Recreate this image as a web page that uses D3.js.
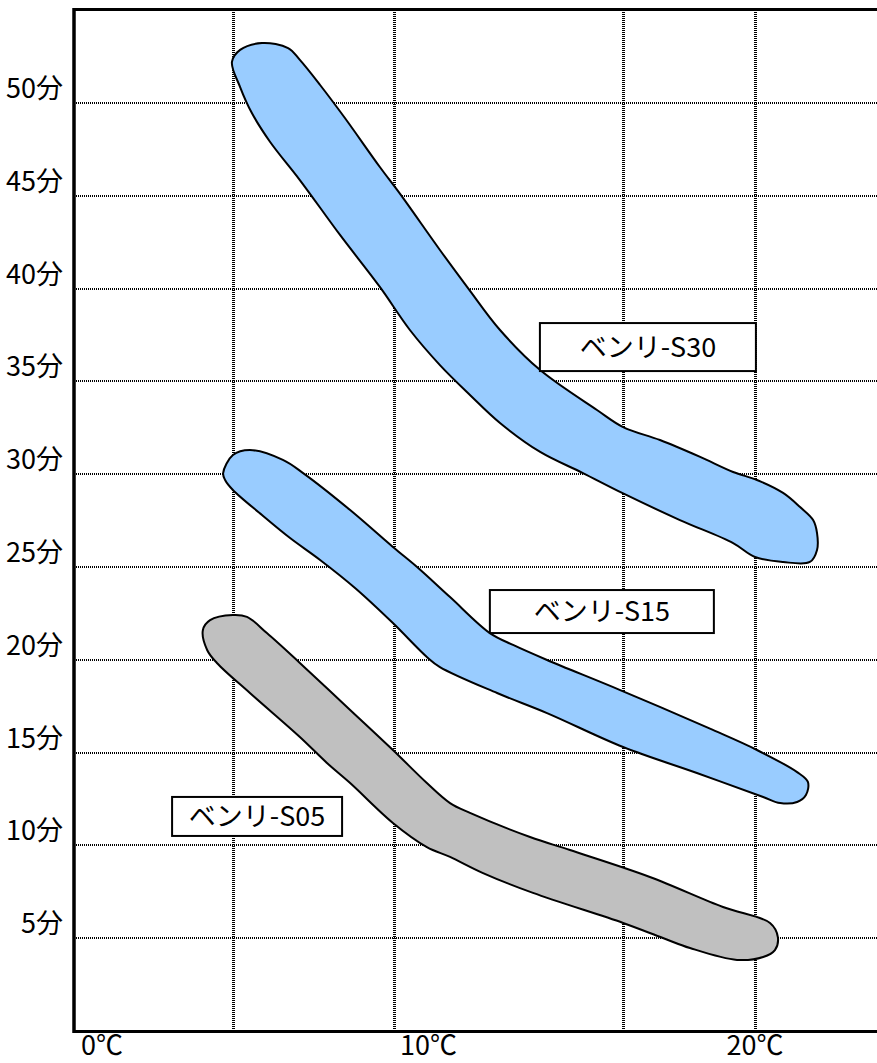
<!DOCTYPE html>
<html>
<head>
<meta charset="utf-8">
<script src="https://cdn.jsdelivr.net/npm/d3@7"></script>
<style>
    body { margin: 0; background: #fff; }
    .tick { font-family: "Noto Sans CJK JP", "Liberation Sans", sans-serif; fill: #000; }
    .boxText { font-family: "Noto Sans CJK JP", sans-serif; font-size: 27px; fill: #000; }
    .grid { shape-rendering: crispEdges; }
</style>
</head>
<body>
<svg id="chart" width="877" height="1063"></svg>
<script>

// axis values
var xTicks = [0, 10, 20];
var xTickLabels = ["0℃", "10℃", "20℃"];
var yTicks = [5, 10, 15, 20, 25, 30, 35, 40, 45, 50];
var yTickLabels = ["5分", "10分", "15分", "20分", "25分", "30分", "35分", "40分", "45分", "50分"];
var xGrid = [4.0, 8.95, 15.95, 20.0];

var bandNames = ["ベンリ-S30", "ベンリ-S15", "ベンリ-S05"];

// outlines of each band, [temperature, minutes]
var s30Outline = [
    [3.98, 52.21], [4.23, 52.86], [4.90, 53.23], [5.70, 52.96], [6.06, 52.32],
    [6.68, 50.97], [7.44, 49.19], [8.51, 46.55], [9.13, 45.10], [10.35, 42.08],
    [11.21, 40.03], [12.19, 37.77], [13.42, 35.61], [15.16, 33.46],
    [15.96, 32.54], [17.09, 31.84], [18.32, 30.93], [19.33, 30.12], [20.06, 29.69],
    [20.86, 28.99], [21.38, 28.23], [21.78, 27.53], [21.90, 26.83], [21.90, 25.92], [21.68, 25.27],
    [20.86, 25.27], [20.00, 25.54], [19.33, 26.29], [17.70, 27.53], [15.93, 28.99],
    [14.73, 30.06], [13.42, 31.20], [12.19, 32.76], [11.27, 34.27], [10.35, 35.88],
    [9.43, 37.77], [8.51, 40.09], [7.29, 42.89], [6.06, 45.85], [5.15, 47.90],
    [4.59, 49.46], [4.23, 50.86]
];

var s15Outline = [
    [3.71, 30.06], [4.01, 31.03], [4.53, 31.30], [5.54, 30.77], [6.16, 30.06],
    [7.60, 28.07], [8.91, 26.08], [9.65, 25.00], [10.66, 23.38], [11.88, 21.44],
    [12.59, 20.80], [13.63, 19.99], [15.87, 18.37], [18.71, 16.22], [20.06, 15.14],
    [21.29, 13.95], [21.62, 13.42], [21.56, 12.72], [21.29, 12.34], [20.77, 12.28],
    [20.25, 12.61], [18.22, 13.90], [15.96, 15.30], [13.63, 17.13], [12.10, 18.21],
    [10.35, 19.61], [9.95, 20.15], [8.91, 21.98], [7.75, 23.87], [6.68, 25.38],
    [5.76, 26.56], [4.90, 27.80], [4.01, 29.15], [3.77, 29.69]
];

var s05Outline = [
    [3.09, 21.61], [3.31, 22.14], [4.01, 22.41], [4.44, 22.31], [5.05, 21.44],
    [6.06, 19.83], [7.60, 17.30], [8.91, 15.14], [9.95, 13.36], [10.66, 12.28],
    [11.27, 11.75], [13.11, 10.45], [14.33, 9.75], [16.78, 8.30], [19.02, 6.68],
    [20.46, 5.82], [20.70, 5.06], [20.61, 4.36], [20.25, 3.99], [19.45, 3.83],
    [18.01, 4.47], [17.18, 5.01], [15.96, 5.82], [13.20, 7.44], [11.67, 8.51],
    [10.66, 9.38], [9.95, 9.91], [8.91, 11.21], [7.60, 13.36], [6.89, 14.44],
    [6.06, 15.84], [4.53, 18.21], [3.52, 19.83], [3.22, 20.53]
];

var bandOutlines = [s30Outline, s15Outline, s05Outline];
var bandColors = ["#99ccff", "#99ccff", "#c0c0c0"];


function BandChart(){
    var self = this;
    self.left = 74;
    self.right = 877;
    self.top = 9.5;
    self.bottom = 1031.5;

    self.svg = d3.select("#chart");

    self.x = d3.scaleLinear()
        .domain([0, 20])
        .range([102, 755]);

    self.y = d3.scaleLinear()
        .domain([0, 50])
        .range([1031, 103]);

    self.draw();
}


BandChart.prototype.draw = function(){
    var self = this;

    // dotted grid
    self.svg.append("g").selectAll("line").data(yTicks).enter()
        .append("line")
        .attr("class", "grid")
        .attr("x1", self.left)
        .attr("x2", self.right)
        .attr("y1", function(d){ return Math.round(self.y(d)); })
        .attr("y2", function(d){ return Math.round(self.y(d)); })
        .attr("stroke", "#000")
        .attr("stroke-width", 2)
        .attr("stroke-dasharray", "1,1");

    self.svg.append("g").selectAll("line").data(xGrid).enter()
        .append("line")
        .attr("class", "grid")
        .attr("x1", function(d){ return Math.round(self.x(d)) + 0.5; })
        .attr("x2", function(d){ return Math.round(self.x(d)) + 0.5; })
        .attr("y1", 10)
        .attr("y2", 1031)
        .attr("stroke", "#000")
        .attr("stroke-width", 3)
        .attr("stroke-dasharray", "1,1");

    // bands
    var outline = d3.line()
        .x(function(d){ return self.x(d[0]); })
        .y(function(d){ return self.y(d[1]); })
        .curve(d3.curveCatmullRomClosed.alpha(0.5));

    self.svg.append("g").selectAll("path").data(bandOutlines).enter()
        .append("path")
        .attr("d", outline)
        .attr("fill", function(d, i){ return bandColors[i]; })
        .attr("stroke", "#000")
        .attr("stroke-width", 2);

    // frame
    self.svg.append("line")
        .attr("x1", self.left).attr("x2", self.right)
        .attr("y1", self.top).attr("y2", self.top)
        .attr("stroke", "#000").attr("stroke-width", 3);
    self.svg.append("line")
        .attr("x1", self.left).attr("x2", self.right)
        .attr("y1", self.bottom).attr("y2", self.bottom)
        .attr("stroke", "#000").attr("stroke-width", 3);
    self.svg.append("line")
        .attr("x1", self.left).attr("x2", self.left)
        .attr("y1", self.top - 1.5).attr("y2", self.bottom + 1.5)
        .attr("stroke", "#000").attr("stroke-width", 3.5);

    // tick labels
    self.svg.append("g").selectAll("text").data(yTicks).enter()
        .append("text")
        .attr("class", "tick")
        .attr("x", 63)
        .attr("y", function(d){ return self.y(d) - 5; })
        .attr("text-anchor", "end")
        .style("font-size", "27px")
        .text(function(d, i){ return yTickLabels[i]; });

    self.svg.append("g").selectAll("text").data(xTicks).enter()
        .append("text")
        .attr("class", "tick")
        .attr("x", function(d){ return self.x(d); })
        .attr("y", 1055)
        .attr("text-anchor", "middle")
        .style("font-size", "27px")
        .text(function(d, i){ return xTickLabels[i]; });

    // name boxes, anchored at [temperature, minutes] with pixel size
    var boxes = [
        {at: [16.72, 36.85], w: 216, h: 48},
        {at: [15.31, 22.60], w: 224, h: 43},
        {at: [4.75, 11.56], w: 170, h: 39}
    ];

    var box = self.svg.append("g").selectAll("g").data(boxes).enter()
        .append("g")
        .attr("transform", function(d){
            return "translate(" + self.x(d.at[0]) + "," + self.y(d.at[1]) + ")";
        });

    box.append("rect")
        .attr("x", function(d){ return -d.w/2; })
        .attr("y", function(d){ return -d.h/2; })
        .attr("width", function(d){ return d.w; })
        .attr("height", function(d){ return d.h; })
        .attr("fill", "#fff")
        .attr("stroke", "#000")
        .attr("stroke-width", 2);

    box.append("text")
        .attr("class", "boxText")
        .attr("text-anchor", "middle")
        .attr("dy", "0.35em")
        .text(function(d, i){ return bandNames[i]; });
}


var chart = new BandChart();

</script>
</body>
</html>
